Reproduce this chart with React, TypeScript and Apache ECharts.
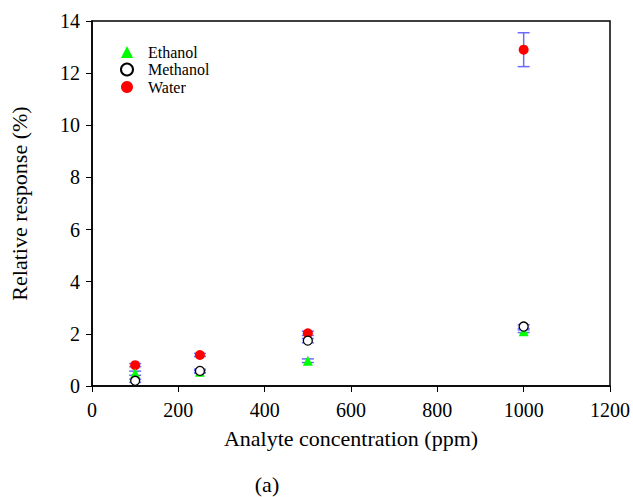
import React, { useEffect, useRef } from "react";
import * as echarts from "echarts";

const concentrations = [100, 250, 500, 1000];
const ethanol = [0.49, 0.55, 0.97, 2.1];
const methanol = [0.2, 0.58, 1.74, 2.28];
const water = [0.8, 1.19, 2.02, 12.9];
const ethanolErr = [0.08, 0.05, 0.07, 0.05];
const methanolErr = [0.06, 0.06, 0.08, 0.07];
const waterErr = [0.06, 0.06, 0.08, 0.65];
const xTicks = [0, 200, 400, 600, 800, 1000, 1200];
const yTicks = [0, 2, 4, 6, 8, 10, 12, 14];

const FONT = "Liberation Serif";
const ERR_COLOR = "#6b6bff";

function errSeries(name: string, vals: number[], errs: number[], z: number) {
  return {
    type: "custom",
    name: name + " err",
    z,
    silent: true,
    data: concentrations.map((c, i) => [c, vals[i] - errs[i], vals[i] + errs[i]]),
    renderItem: (params: any, api: any) => {
      const x = api.value(0);
      const lo = api.coord([x, api.value(1)]);
      const hi = api.coord([x, api.value(2)]);
      const hw = 6;
      const style = { stroke: ERR_COLOR, lineWidth: 1.5 };
      return {
        type: "group",
        children: [
          { type: "line", shape: { x1: lo[0], y1: lo[1], x2: hi[0], y2: hi[1] }, style },
          { type: "line", shape: { x1: lo[0] - hw, y1: lo[1], x2: lo[0] + hw, y2: lo[1] }, style },
          { type: "line", shape: { x1: hi[0] - hw, y1: hi[1], x2: hi[0] + hw, y2: hi[1] }, style },
        ],
      };
    },
  };
}

const labelStyle = { fontFamily: FONT, fontSize: 20, color: "#000" };

export default function App() {
  const ref = useRef<HTMLDivElement>(null);
  useEffect(() => {
    if (!ref.current) return;
    const chart = echarts.init(ref.current, null, { renderer: "svg" });
    chart.setOption({
      animation: false,
      backgroundColor: "#fff",
      textStyle: { fontFamily: FONT, color: "#000" },
      grid: {
        left: 91,
        right: 22,
        top: 21,
        bottom: 111,
        show: true,
        borderColor: "#000",
        borderWidth: 1.5,
        backgroundColor: "transparent",
      },
      legend: {
        orient: "vertical",
        left: 115,
        top: 39,
        itemGap: 1.5,
        itemWidth: 12,
        itemHeight: 12,
        data: ["Ethanol", "Methanol", "Water"],
        textStyle: {
          fontFamily: FONT,
          fontSize: 16,
          lineHeight: 16,
          color: "#000",
          padding: [0, 0, 0, 10],
        },
      },
      xAxis: {
        type: "value",
        min: 0,
        max: 1200,
        interval: 200,
        name: "Analyte concentration (ppm)",
        nameLocation: "middle",
        nameGap: 41,
        nameMoveOverlap: false,
        nameTextStyle: { fontFamily: FONT, fontSize: 22, color: "#000" },
        axisLine: { show: true, lineStyle: { color: "#000", width: 1.5 } },
        axisTick: { show: true, inside: false, length: 6, lineStyle: { color: "#000" } },
        axisLabel: {
          ...labelStyle,
          margin: 14,
          formatter: (v: number) => (xTicks.includes(v) ? String(v) : ""),
        },
        splitLine: { show: false },
      },
      yAxis: {
        type: "value",
        min: 0,
        max: 14,
        interval: 2,
        name: "Relative response (%)",
        nameLocation: "middle",
        nameGap: 62,
        nameMoveOverlap: false,
        nameTextStyle: { fontFamily: FONT, fontSize: 22, color: "#000" },
        axisLine: { show: true, lineStyle: { color: "#000", width: 1.5 } },
        axisTick: { show: true, inside: false, length: 6, lineStyle: { color: "#000" } },
        axisLabel: {
          ...labelStyle,
          margin: 12,
          formatter: (v: number) => (yTicks.includes(v) ? String(v) : ""),
        },
        splitLine: { show: false },
      },
      series: [
        errSeries("Water", water, waterErr, 2),
        {
          type: "scatter",
          name: "Water",
          z: 3,
          symbol: "circle",
          symbolSize: 10,
          itemStyle: { color: "#ff0000", opacity: 1 },
          data: concentrations.map((c, i) => [c, water[i]]),
        },
        errSeries("Ethanol", ethanol, ethanolErr, 4),
        {
          type: "scatter",
          name: "Ethanol",
          z: 5,
          symbol: "triangle",
          symbolSize: 10,
          itemStyle: { color: "#00ff00", opacity: 1 },
          data: concentrations.map((c, i) => [c, ethanol[i]]),
        },
        errSeries("Methanol", methanol, methanolErr, 6),
        {
          type: "scatter",
          name: "Methanol",
          z: 7,
          symbol: "circle",
          symbolSize: 9,
          itemStyle: { color: "#fff", borderColor: "#000", borderWidth: 1.3, opacity: 1 },
          data: concentrations.map((c, i) => [c, methanol[i]]),
        },
      ],
      graphic: [
        {
          type: "text",
          x: 267,
          y: 484,
          style: {
            text: "(a)",
            fontFamily: FONT,
            fontSize: 22,
            fill: "#000",
            textAlign: "center",
            textVerticalAlign: "middle",
          },
        },
      ],
    });
    return () => chart.dispose();
  }, []);
  return (
    <div
      ref={ref}
      style={{ position: "absolute", left: 0, top: 0, width: 633, height: 497 }}
    />
  );
}
